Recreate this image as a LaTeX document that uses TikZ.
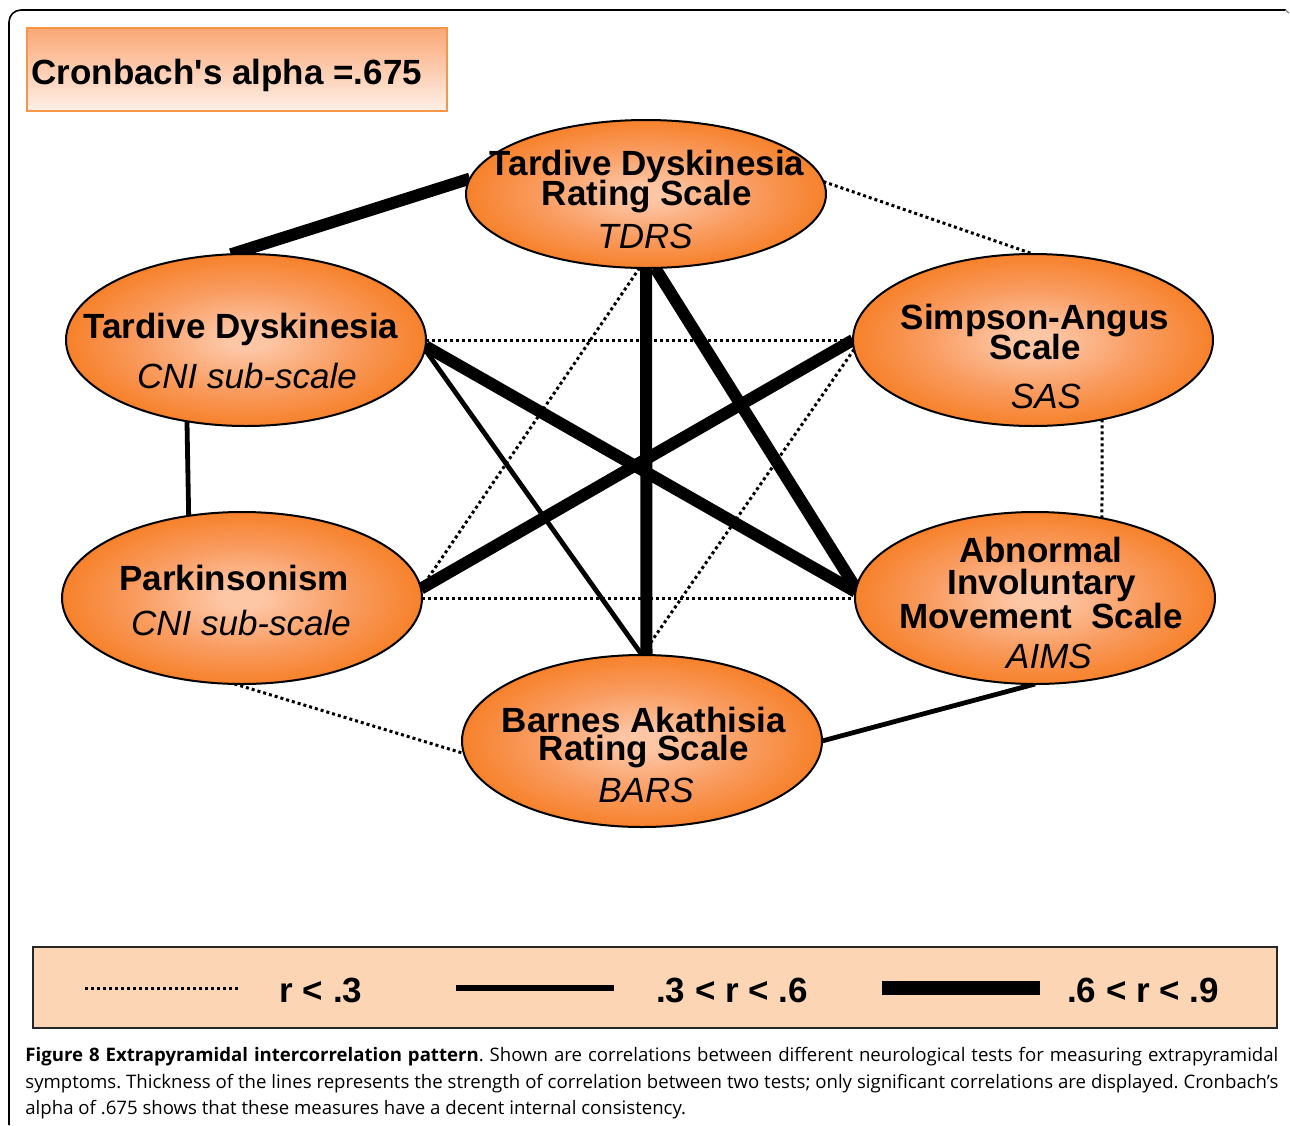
\documentclass[tikz,border=0pt]{standalone}
\usepackage{fontspec}
\setmainfont{Liberation Sans}
\newfontfamily\capfont{Open Sans}
\usetikzlibrary{shapes.geometric}
\definecolor{elout}{RGB}{246,124,32}
\definecolor{elmid}{RGB}{249,155,95}
\definecolor{elin}{RGB}{253,198,165}
\definecolor{legfill}{RGB}{252,213,181}
\definecolor{boxedge}{RGB}{247,150,70}
\definecolor{boxtop}{RGB}{251,168,118}
\definecolor{boxbot}{RGB}{254,240,232}
\pgfdeclareradialshading{ellshade}{\pgfpoint{0bp}{0bp}}{color(0bp)=(elin); color(3bp)=(elin); color(15bp)=(elmid); color(27bp)=(elout); color(50bp)=(elout)}
\pgfdeclarelayer{bg}
\pgfsetlayers{bg,main}
\newcommand\mytightlines{\setlength{\lineskiplimit}{-30pt}}
\begin{document}
\begin{tikzpicture}[x=0.5pt,y=-0.5pt,
  ell/.style={ellipse, draw=black, line width=1pt, shading=ellshade, minimum width=180pt, minimum height=86pt, inner sep=0pt, outer sep=0pt},
  ttl/.style={font=\bfseries\fontsize{17.5}{17.5}\selectfont, anchor=base, inner sep=0pt},
  ttlpair/.style={font={\bfseries\fontsize{17.5}{#1}\selectfont\mytightlines}, align=center, anchor=north, inner sep=0pt},
  abbr/.style={font=\itshape\fontsize{17.5}{17.5}\selectfont, anchor=base, inner sep=0pt},
  rweak/.style={line width=1.5pt, dash pattern=on 1.5pt off 1.5pt},
  rmid/.style={line width=2.4pt},
  rstrong/.style={line width=6pt},
]
\useasboundingbox (0,0) rectangle (1290,1125);
% frame
\draw[line width=0.8pt, rounded corners=6pt] (9,1125) -- (9,10) -- (1286,10);
\draw[gray, line width=0.6pt] (1285,10) -- (1289,13);

% Cronbach box
\node[draw=boxedge, line width=1pt, top color=boxtop, bottom color=boxbot, minimum width=210pt, minimum height=41.5pt, inner sep=0pt] (cbox) at (237,69.5) {};
\node[font=\bfseries\fontsize{17.5}{17.5}\selectfont, anchor=base west, inner sep=0pt] (ctext) at (31,84) {Cronbach\textquotesingle s alpha =.675};

% ellipses
\node[ell, minimum height=74pt] (tdrs) at (646,194) {};
\node[ell] (tdcni) at (246,340) {};
\node[ell] (sas) at (1033,340) {};
\node[ell] (park) at (242,598) {};
\node[ell] (aims) at (1035,598) {};
\node[ell] (bars) at (642,741) {};

% labels
\node[ttlpair=15pt] (tdrs1) at (647,150) {Tardive Dyskinesia\\Rating Scale};
\node[abbr] (tdrs3) at (645,248) {TDRS};
\node[ttl] (tdc1) at (241,338) {Tardive Dyskinesia};
\node[abbr] (tdc2) at (247,388) {CNI sub-scale};
\node[ttlpair=15pt] (sas1) at (1035,304) {Simpson-Angus\\Scale};
\node[abbr] (sas3) at (1046,408) {SAS};
\node[ttl] (pk1) at (234,590) {Parkinsonism};
\node[abbr] (pk2) at (241,635) {CNI sub-scale};
\node[ttl] (am1) at (1041,562) {Abnormal};
\node[ttl] (am2) at (1042,594) {Involuntary};
\node[ttl] (am3) at (1041,628) {Movement\ \ Scale};
\node[abbr] (am4) at (1049,668) {AIMS};
\node[ttlpair=14pt] (br1) at (644,707) {Barnes Akathisia\\Rating Scale};
\node[abbr] (br3) at (646,802) {BARS};

% connectors
\begin{pgfonlayer}{bg}
\draw[rstrong] (tdrs.175) -- (tdcni.100);
\draw[rweak] (tdrs.4) -- (sas.north);
\draw[rstrong] (tdrs.south) -- (bars.87);
\draw[rstrong] (tdrs.277) -- (aims.177);
\draw[rweak] (tdrs.265) -- (park.3);
\draw[rweak] (tdcni.east) -- (sas.west);
\draw[rstrong] (tdcni.358) -- (aims.178);
\draw[rmid] (tdcni.357) -- (bars.north);
\draw[rmid] (tdcni.234) -- (park.123);
\draw[rstrong] (sas.west) -- (park.3);
\draw[rweak] (sas.183) -- (bars.north);
\draw[rweak] (sas.311) -- (aims.50);
\draw[rweak] (park.east) -- (aims.west);
\draw[rweak] (park.265) -- (bars.184);
\draw[rmid] (bars.east) -- (aims.south);
\end{pgfonlayer}

% legend
\node[draw=black!85, line width=1pt, fill=legfill, minimum width=622pt, minimum height=40.5pt, inner sep=0pt] (legend) at (655,987.5) {};
\coordinate (l1a) at (85,988);
\coordinate (l1b) at (238,988);
\coordinate (l2a) at (456,988);
\coordinate (l2b) at (614,988);
\coordinate (l3a) at (882,988);
\coordinate (l3b) at (1040,988);
\draw[rweak] (l1a) -- (l1b);
\draw[line width=2.7pt] (l2a) -- (l2b);
\draw[line width=6.8pt] (l3a) -- (l3b);
\node[ttl] (lt1) at (321,1002) {r < .3};
\node[ttl] (lt2) at (732,1002) {.3 < r < .6};
\node[ttl] (lt3) at (1143,1002) {.6 < r < .9};

% caption
\node[anchor=north west, inner sep=0pt, text width=626.5pt, align=justify, font=\capfont\fontsize{9.3}{13.3}\selectfont\frenchspacing] (cap) at (25,1047) {\textbf{Figure 8 Extrapyramidal intercorrelation pattern}. Shown are correlations between different neurological tests for measuring extrapyramidal\linebreak symptoms. Thickness of the lines represents the strength of correlation between two tests; only significant correlations are displayed. Cronbach’s\linebreak alpha of .675 shows that these measures have a decent internal consistency.};
\end{tikzpicture}
\end{document}
